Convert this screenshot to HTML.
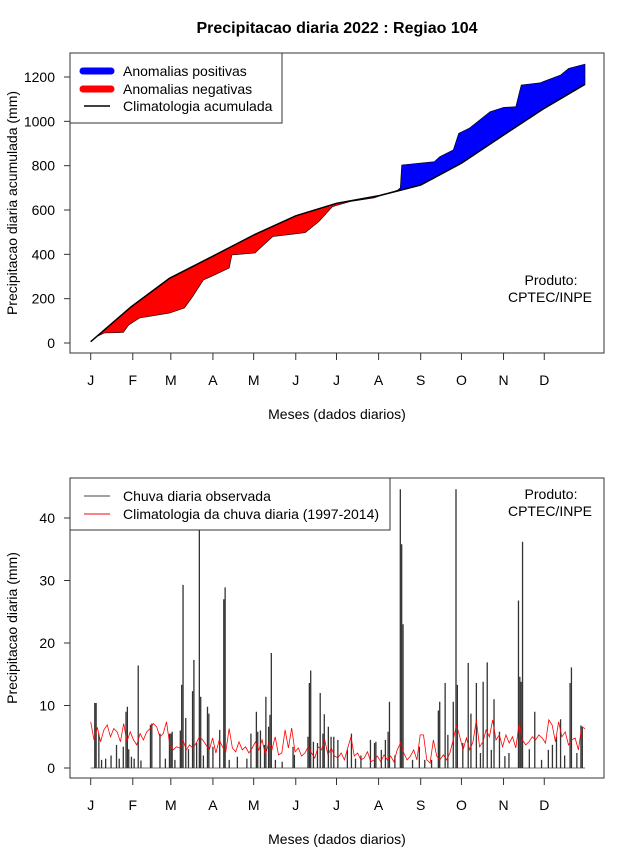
<!DOCTYPE html>
<html><head><meta charset="utf-8">
<style>
html,body{margin:0;padding:0;background:#fff;}
svg{display:block;font-family:"Liberation Sans",Arial,sans-serif;}
</style></head>
<body>
<svg id="chart" width="640" height="850" viewBox="0 0 640 850" xmlns="http://www.w3.org/2000/svg">
<rect x="0" y="0" width="640" height="850" fill="#fff"/>
<text x="337" y="33" text-anchor="middle" font-size="16" font-weight="bold">Precipitacao diaria 2022 : Regiao 104</text>
<g id="top"></g>
<g id="bot"></g>
</svg>
<script>
// ---- data ----
const monthLabels = ["J","F","M","A","M","J","J","A","S","O","N","D"];
const monthStartDays = [1,32,60,91,121,152,182,213,244,274,305,335];
const topTicks = [0,200,400,600,800,1000,1200];
const botTicks = [0,10,20,30,40];
// cumulative climatology
const climDays = [1,31,59,90,121,152,182,213,244,274,305,335,365];
const climCum  = [6,164,292,389,487,574,630,664,713,811,938,1059,1167];
// cumulative observed
const obsDays = [1,5,11,25,29,37,59,70,76,84,103,105,122,135,159,169,179,192,210,220,227,229,230,254,258,268,272,280,295,305,314,318,332,347,353,365];
const obsCum  = [6,28,45,48,81,113,135,158,209,284,338,397,406,480,498,547,615,638,655,676,690,700,803,818,840,871,946,970,1043,1063,1066,1164,1174,1209,1239,1258];
// daily observed rain
const rainDays = [4,5,7,9,12,16,20,22,25,27,28,29,31,33,36,38,45,46,52,56,59,60,61,63,67,68,69,71,73,76,77,79,81,82,84,87,88,91,96,99,100,103,109,116,119,123,124,126,129,130,132,133,134,137,142,150,151,161,162,163,165,168,170,172,173,176,178,180,183,190,193,196,200,207,210,211,215,218,220,221,225,229,230,231,238,243,247,252,257,258,262,264,268,270,271,275,279,281,285,288,290,293,296,298,302,306,309,316,317,318,319,324,328,333,338,341,344,347,350,354,355,359,362,363];
const rainVals = [10.4,10.4,5.5,1.3,1.5,2,3.7,1.5,3.4,9,9.8,3,1.8,1.5,16.4,1.2,6.9,7.1,5.5,1.5,5.5,5.5,5.8,1.3,6,13.3,29.3,8,3,12.3,17.3,4,38,11.4,2,9.8,8.7,3.4,6.1,27,28.9,1.3,1.8,1.5,5.5,9,5.8,6,3.7,11.4,6.6,8.5,18.4,1.3,1,3.4,2.1,5,13.6,15.6,4.2,4,12,5.5,8.6,6.6,5,5,4.5,2.9,5.5,1.5,2,4.5,4,4.2,2.9,4.5,5.8,10.6,2,44.6,35.8,23,1.3,3.4,1.3,1.3,9.2,10.6,13.6,5.3,10.6,44.6,13.3,4,16.8,8.7,13.6,2.4,13.8,16.9,2.9,11,5.8,1.9,2.4,26.8,14.6,13.8,36.2,3,9,1.3,2.9,3.7,5,7.8,2,13.6,16.1,2.4,6.8,6.6];
// daily climatology (evenly spaced through the year)
const climDaily = [7.4,4.5,6.5,4.2,6.1,6.9,5,6.3,5.8,4.2,7.1,4.2,5.8,4.5,3.7,5.5,4.5,5.8,6.3,7.1,6.6,5,5.5,7.4,3.7,2.9,3.4,3.2,4.5,2.9,3.7,3.2,4,5,4.5,3.7,2.9,4.8,2.4,4.5,3.4,2.6,6.3,3.2,2.6,4.2,2.9,3.4,2.4,3.2,
4.2,2.9,4.5,2.1,4,2.9,5,2.1,2.4,6.1,3.2,6.4,2.6,3.2,1.9,2.4,3.4,2.4,1.6,3.4,2.9,4.5,2.1,3.2,1.9,1.6,2.4,1.3,3.2,5,1.9,2.4,1.3,1.6,2.6,1,1.3,1.9,1,2.1,1.3,1.9,1,2.9,4,2.4,1.3,1.9,2.9,1.3,5.3,
5.3,1.3,0.8,4.5,1.9,1.3,2.1,1.3,2.4,4.5,6.9,5,2.9,4.8,2.9,4.2,7.7,3.4,4.2,6.1,5,7.7,4.5,5.3,3.4,5.3,4,5,3.2,7.1,4.5,3.7,4.2,5,4.5,5.3,4.8,4,7.7,6.9,4.2,7.4,5,5.8,3.7,4.5,4.8,2.9,6.6,6.3];

// ---- helpers ----
const NS="http://www.w3.org/2000/svg";
function mk(parent,tag,attrs,text){const e=document.createElementNS(NS,tag);for(const k in attrs)e.setAttribute(k,attrs[k]);if(text!==undefined)e.textContent=text;parent.appendChild(e);return e;}
const X=d=>90.7+(d-1)*1.358;
const Yt=v=>343-v*266/1200;
const Yb=v=>768-v*6.25;
function interp(ds,vs,d){if(d<=ds[0])return vs[0];for(let i=1;i<ds.length;i++){if(d<=ds[i]){const t=(d-ds[i-1])/(ds[i]-ds[i-1]);return vs[i-1]+t*(vs[i]-vs[i-1]);}}return vs[vs.length-1];}

function axes(g,top,bottom,ticks,Y,ylabel,prefix){
  let e=mk(g,'rect',{x:70,y:top,width:534,height:bottom-top,fill:'none',stroke:'#333','stroke-width':1});
  
  ticks.forEach(t=>{
    let l=mk(g,'line',{x1:64,x2:70,y1:Y(t),y2:Y(t),stroke:'#333'});
    
    let tx=mk(g,'text',{x:55,y:Y(t)+5,'text-anchor':'end','font-size':14},String(t));
    
  });
  monthStartDays.forEach((d,i)=>{
    let l=mk(g,'line',{x1:X(d),x2:X(d),y1:bottom,y2:bottom+7,stroke:'#333'});
    
    let tx=mk(g,'text',{x:X(d),y:bottom+32,'text-anchor':'middle','font-size':14},monthLabels[i]);
    
  });
  let xl=mk(g,'text',{x:337,y:bottom+66,'text-anchor':'middle','font-size':14},'Meses (dados diarios)');
  
  const cy=(top+bottom)/2;
  let yl=mk(g,'text',{x:17,y:cy,'text-anchor':'middle','font-size':14,transform:`rotate(-90 17 ${cy})`},ylabel);
  
}

// ---- top panel ----
const gt=document.getElementById('top');
axes(gt,53,353,topTicks,Yt,'Precipitacao diaria acumulada (mm)','top');
const allDays=[...new Set([...climDays,...obsDays])].sort((a,b)=>a-b);
const pts=allDays.map(d=>({d,o:interp(obsDays,obsCum,d),c:interp(climDays,climCum,d)}));
let segs=[];let cur=[pts[0]];
for(let i=1;i<pts.length;i++){
  const a=pts[i-1],b=pts[i];const sa=a.o-a.c,sb=b.o-b.c;
  if(sa*sb<0){const t=sa/(sa-sb);const m={d:a.d+t*(b.d-a.d),o:a.o+t*(b.o-a.o)};m.c=m.o;cur.push(m);segs.push(cur);cur=[m,b];}
  else cur.push(b);
}
segs.push(cur);
segs.forEach(s=>{
  let sum=0;s.forEach(p=>sum+=p.o-p.c);
  const pos=sum>0;
  const up=s.map(p=>X(p.d).toFixed(1)+','+Yt(p.o).toFixed(1));
  const dn=s.slice().reverse().map(p=>X(p.d).toFixed(1)+','+Yt(p.c).toFixed(1));
  const poly=mk(gt,'polygon',{points:up.concat(dn).join(' '),fill:pos?'#0000ff':'#ff0000',stroke:'#000','stroke-width':0.6});
  
  
});
const climLine=mk(gt,'polyline',{points:climDays.map((d,i)=>X(d).toFixed(1)+','+Yt(climCum[i]).toFixed(1)).join(' '),fill:'none',stroke:'#000','stroke-width':1.5});


let lg=mk(gt,'g',{});

mk(lg,'rect',{x:70,y:53,width:212,height:70,fill:'#fff',stroke:'#333'});
mk(lg,'line',{x1:83,x2:111,y1:71,y2:71,stroke:'#0000ff','stroke-width':7,'stroke-linecap':'round'});
mk(lg,'line',{x1:83,x2:111,y1:89,y2:89,stroke:'#ff0000','stroke-width':7,'stroke-linecap':'round'});
mk(lg,'line',{x1:84,x2:110,y1:106,y2:106,stroke:'#000','stroke-width':1.5});
mk(lg,'text',{x:123,y:76,'font-size':14},'Anomalias positivas');
mk(lg,'text',{x:123,y:94,'font-size':14},'Anomalias negativas');
mk(lg,'text',{x:123,y:111,'font-size':14},'Climatologia acumulada');
let p1=mk(gt,'text',{x:551,y:285,'text-anchor':'middle','font-size':14},'Produto:');

let p2=mk(gt,'text',{x:550,y:302,'text-anchor':'middle','font-size':14},'CPTEC/INPE');


// ---- bottom panel ----
const gb=document.getElementById('bot');
axes(gb,478,778,botTicks,Yb,'Precipitacao diaria (mm)','bottom');
let base=mk(gb,'line',{x1:X(1),x2:X(365),y1:Yb(0),y2:Yb(0),stroke:'#777','stroke-width':1});

rainDays.forEach((d,i)=>{
  const b=mk(gb,'line',{x1:X(d),x2:X(d),y1:Yb(0),y2:Yb(rainVals[i]),stroke:'#333','stroke-width':1.3});
  
  
});
const n=climDaily.length;
const cl=mk(gb,'polyline',{points:climDaily.map((v,i)=>X(1+i*364/(n-1)).toFixed(1)+','+Yb(v).toFixed(1)).join(' '),fill:'none',stroke:'#ff0000','stroke-width':0.8});


let lb=mk(gb,'g',{});

mk(lb,'rect',{x:70,y:478,width:320,height:52,fill:'#fff',stroke:'#333'});
mk(lb,'line',{x1:84,x2:110,y1:496,y2:496,stroke:'#444','stroke-width':1});
mk(lb,'line',{x1:84,x2:110,y1:514,y2:514,stroke:'#ff0000','stroke-width':1});
mk(lb,'text',{x:123,y:501,'font-size':14},'Chuva diaria observada');
mk(lb,'text',{x:123,y:519,'font-size':14},'Climatologia da chuva diaria (1997-2014)');
let q1=mk(gb,'text',{x:551,y:499,'text-anchor':'middle','font-size':14},'Produto:');

let q2=mk(gb,'text',{x:550,y:516,'text-anchor':'middle','font-size':14},'CPTEC/INPE');

</script>
</body></html>
